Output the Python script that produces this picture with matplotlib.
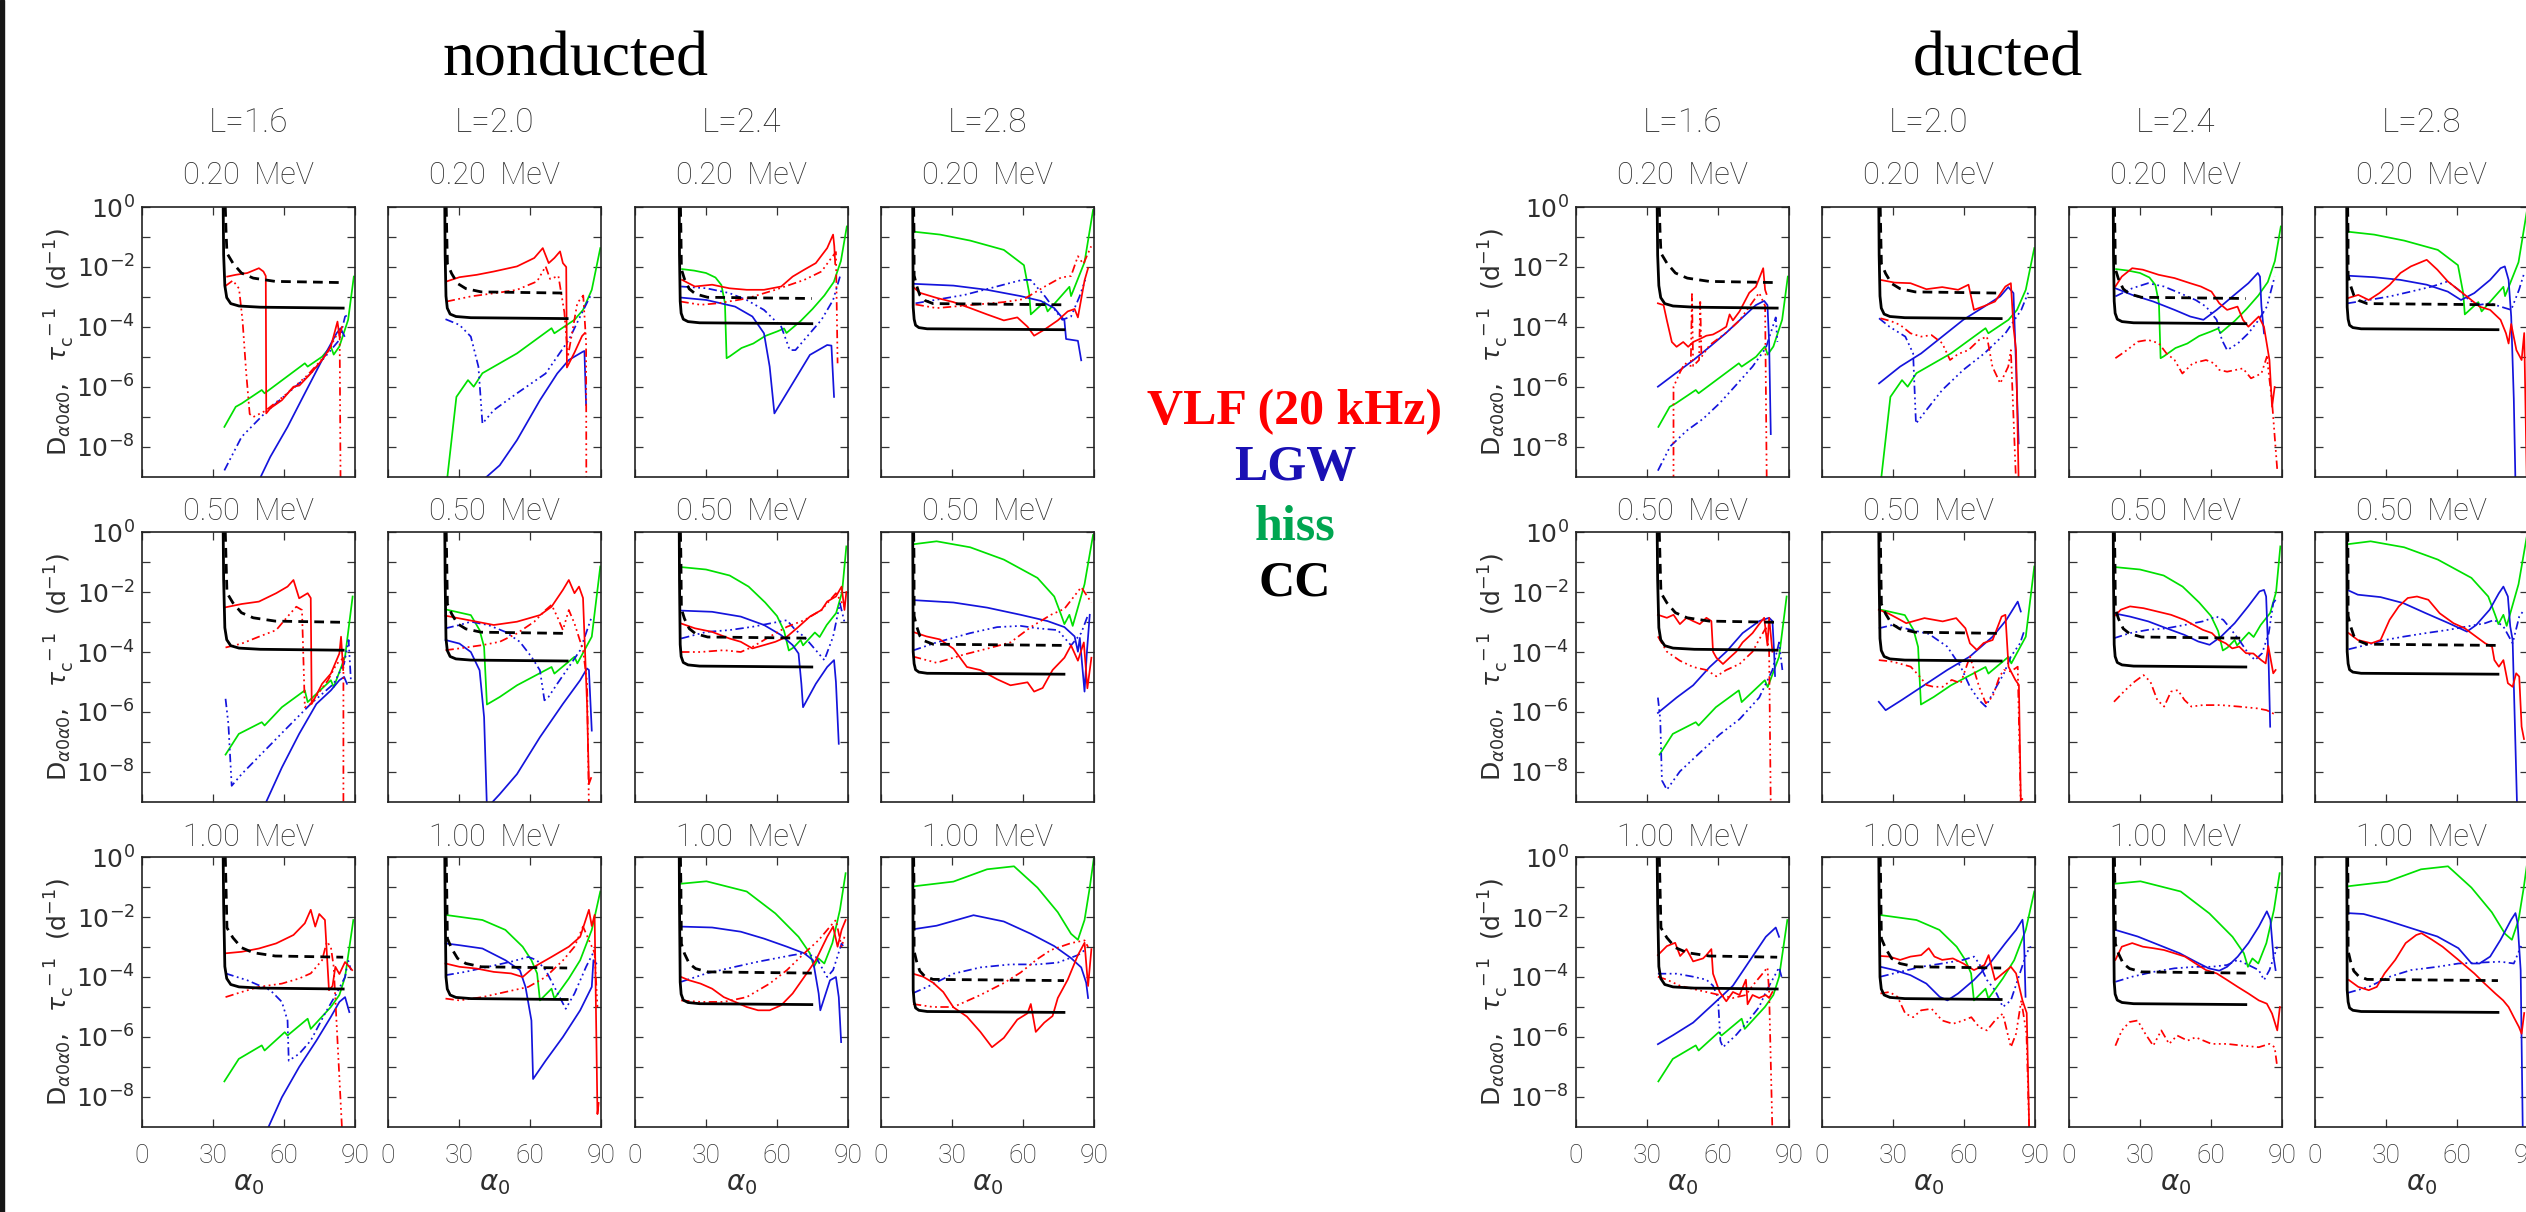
import numpy as np
import matplotlib
matplotlib.use('Agg')
import matplotlib.pyplot as plt
from matplotlib.patches import Rectangle

plt.rcParams['lines.scale_dashes'] = False
plt.rcParams['mathtext.fontset'] = 'dejavusans'

# ---------------- data ----------------
L_VALUES = ['1.6', '2.0', '2.4', '2.8']
ENERGIES = ['0.20', '0.50', '1.00']
SECTIONS = ['nonducted', 'ducted']
LEGEND = [('VLF (20 kHz)', '#ff0000'), ('LGW', '#1a10b4'), ('hiss', '#00a651'), ('CC', '#000000')]
X_TICKS = [0, 30, 60, 90]
Y_EXP_LABELED = [0, -2, -4, -6, -8]
Y_EXP_MINOR = [-1, -3, -5, -7]

# all curves: alpha0 (deg) and log10 of rate (1/day)
# Coulomb collision curves (same in both sections), alpha per L column, values [row][col]
CC_SOLID_A = [[34.3, 34.5, 35.0, 35.8, 37.5, 41.0, 50.0, 85.0],
              [24.0, 24.15, 24.5, 25.05, 26.25, 28.7, 35.0, 75.7],
              [18.7, 18.8, 19.1, 19.5, 20.4, 22.4, 27.3, 74.7],
              [13.4, 13.5, 13.6, 14.0, 14.6, 16.0, 19.5, 77.3]]
CC_SOLID = [
    [[0, -1.6, -2.62, -3.02, -3.22, -3.30, -3.34, -3.37],
     [0, -1.6, -2.97, -3.37, -3.57, -3.65, -3.69, -3.72],
     [0, -1.6, -3.14, -3.54, -3.74, -3.82, -3.86, -3.89],
     [0, -1.6, -3.34, -3.74, -3.94, -4.02, -4.06, -4.09]],
    [[0, -1.6, -3.19, -3.59, -3.79, -3.87, -3.91, -3.94],
     [0, -1.6, -3.55, -3.95, -4.15, -4.23, -4.27, -4.30],
     [0, -1.6, -3.75, -4.15, -4.35, -4.43, -4.47, -4.50],
     [0, -1.6, -3.99, -4.39, -4.59, -4.67, -4.71, -4.74]],
    [[0, -1.6, -3.65, -4.05, -4.25, -4.33, -4.37, -4.40],
     [0, -1.6, -4.00, -4.40, -4.60, -4.68, -4.72, -4.75],
     [0, -1.6, -4.17, -4.57, -4.77, -4.85, -4.89, -4.92],
     [0, -1.6, -4.43, -4.83, -5.03, -5.11, -5.15, -5.18]]]
CC_DASH_A = [[35.2, 35.5, 35.9, 38.4, 42.0, 47.0, 56.3, 85.0],
             [24.6, 24.8, 25.1, 26.9, 29.4, 32.9, 39.4, 75.7],
             [19.2, 19.4, 19.6, 20.9, 22.9, 25.6, 30.7, 74.7],
             [13.8, 13.95, 14.0, 15.0, 16.4, 18.4, 22.0, 77.3]]
CC_DASH = [
    [[0, -0.8, -1.54, -1.87, -2.20, -2.37, -2.48, -2.52],
     [0, -0.8, -1.89, -2.22, -2.55, -2.72, -2.83, -2.87],
     [0, -0.8, -2.07, -2.40, -2.73, -2.90, -3.01, -3.05],
     [0, -0.8, -2.28, -2.61, -2.94, -3.11, -3.22, -3.26]],
    [[0, -0.9, -2.03, -2.36, -2.69, -2.86, -2.97, -3.01],
     [0, -0.9, -2.40, -2.73, -3.06, -3.23, -3.34, -3.38],
     [0, -0.9, -2.56, -2.89, -3.22, -3.39, -3.50, -3.54],
     [0, -0.9, -2.80, -3.13, -3.46, -3.63, -3.74, -3.78]],
    [[0, -1.0, -2.36, -2.69, -3.02, -3.19, -3.30, -3.34],
     [0, -1.0, -2.72, -3.05, -3.38, -3.55, -3.66, -3.70],
     [0, -1.0, -2.89, -3.22, -3.55, -3.72, -3.83, -3.87],
     [0, -1.0, -3.14, -3.47, -3.80, -3.97, -4.08, -4.12]]]

# plasmaspheric hiss (same in both sections), [row][col] lists of (alpha, log10 D)
HISS = [
    [[(34.8, -7.33), (39.6, -6.66), (42.1, -6.55), (50.6, -6.10), (51.8, -6.21), (68.8, -5.21), (70.0, -5.32),
      (76.1, -4.99), (79.8, -4.65), (81.0, -4.92), (83.4, -4.65), (87.1, -3.76), (89.5, -2.32)],
     [(24.8, -9.2), (28.9, -6.33), (33.8, -5.77), (36.2, -5.99), (39.9, -5.54), (47.2, -5.21), (54.5, -4.88),
      (69.1, -4.04), (70.3, -4.21), (78.8, -3.76), (82.4, -3.43), (86.1, -2.76), (89.7, -1.37)],
     [(19.9, -2.07), (25.0, -2.12), (30.0, -2.20), (34.0, -2.35), (36.5, -2.60), (38.0, -3.20), (38.7, -5.04),
      (40.0, -4.98), (45.0, -4.70), (50.0, -4.55), (55.0, -4.30), (60.0, -4.15), (63.0, -4.05), (64.0, -4.20),
      (70.0, -3.80), (75.0, -3.40), (80.0, -2.95), (84.0, -2.50), (87.0, -1.80), (89.5, -0.65)],
     [(13.5, -0.82), (25.0, -0.92), (37.7, -1.12), (51.9, -1.43), (60.4, -1.94), (62.6, -2.86), (63.3, -3.58),
      (69.0, -3.17), (70.4, -3.48), (79.6, -2.66), (80.3, -2.97), (86.0, -1.84), (89.6, -0.10)]],
    [[(35.3, -7.42), (40.9, -6.73), (50.6, -6.34), (51.8, -6.45), (59.1, -5.84), (68.8, -5.28), (70.0, -5.67),
      (79.8, -4.94), (81.0, -5.17), (85.8, -4.16), (89.0, -2.15)],
     [(24.3, -2.58), (35.0, -2.77), (38.7, -3.27), (40.6, -3.83), (41.8, -5.75), (47.2, -5.50), (54.5, -5.11),
      (69.1, -4.50), (70.3, -4.72), (78.8, -4.16), (80.0, -4.38), (86.1, -3.49), (89.7, -1.15)],
     [(19.5, -1.17), (30.0, -1.25), (40.0, -1.45), (48.0, -1.82), (55.0, -2.35), (60.0, -2.80), (63.0, -3.30),
      (65.0, -3.95), (67.0, -3.85), (70.0, -3.60), (71.0, -3.78), (76.0, -3.35), (78.0, -3.50), (81.0, -3.10),
      (85.0, -2.70), (87.5, -2.00), (89.3, -0.48)],
     [(13.5, -0.41), (23.5, -0.31), (37.7, -0.51), (51.9, -0.92), (66.1, -1.53), (73.2, -2.15), (76.1, -2.76),
      (77.5, -3.07), (79.6, -2.76), (81.0, -3.13), (86.0, -1.74), (89.6, -0.10)]],
    [[(34.8, -7.48), (40.9, -6.73), (50.6, -6.28), (51.8, -6.45), (60.3, -5.84), (61.5, -5.95), (70.0, -5.39),
      (71.3, -5.73), (79.8, -5.00), (83.4, -4.60), (85.8, -4.00), (89.3, -2.10)],
     [(24.3, -1.93), (39.9, -2.10), (49.6, -2.43), (56.9, -2.99), (60.6, -3.44), (63.0, -3.88), (64.2, -4.78),
      (69.1, -4.39), (70.3, -4.72), (76.4, -4.05), (81.2, -3.44), (86.1, -2.43), (89.7, -1.15)],
     [(19.5, -0.89), (30.2, -0.81), (47.2, -1.15), (59.3, -1.88), (69.1, -2.66), (73.9, -3.21), (75.6, -3.66),
      (77.5, -3.38), (80.0, -3.55), (83.4, -2.87), (86.6, -1.76), (89.0, -0.54)],
     [(13.5, -0.98), (30.6, -0.82), (44.8, -0.41), (56.2, -0.31), (57.6, -0.41), (66.1, -1.02), (74.7, -1.84),
      (80.3, -2.56), (83.2, -2.76), (86.0, -2.10), (88.2, -1.02), (90.0, 0.0)]]]

# nonducted VLF transmitter (solid, dash-dot) and lightning whistlers (solid, dash-dot)
ND_VLF = [
    [[(36.0, -2.32), (39.6, -2.26), (44.5, -2.20), (49.4, -2.04), (51.3, -2.15), (52.3, -2.3), (52.5, -6.88),
      (54.2, -6.71), (59.1, -6.44), (64.0, -5.99), (66.5, -5.95), (71.3, -5.55), (76.1, -5.10), (79.8, -4.65),
      (82.6, -3.82), (83.4, -4.3), (84.5, -4.0)],
     [(24.8, -2.48), (30.2, -2.34), (37.5, -2.26), (44.7, -2.15), (54.5, -1.98), (61.8, -1.70), (65.4, -1.37),
      (67.9, -1.87), (70.3, -1.70), (72.7, -1.48), (73.9, -1.87), (75.3, -2.0), (75.6, -5.35), (78.8, -4.85),
      (82.0, -4.30), (83.2, -4.2)],
     [(19.9, -2.43), (25.3, -2.65), (32.6, -2.59), (39.9, -2.71), (47.2, -2.76), (54.5, -2.76), (61.8, -2.65),
      (66.6, -2.32), (71.5, -2.09), (76.4, -1.87), (81.2, -1.37), (83.7, -0.92), (84.2, -1.3), (84.6, -1.9)],
     [(13.5, -2.66), (16.4, -2.86), (23.5, -3.03), (30.6, -3.17), (37.7, -3.37), (44.8, -3.58), (51.9, -3.78),
      (57.6, -3.68), (61.9, -3.99), (64.7, -4.29), (69.0, -4.09), (74.7, -3.78), (78.9, -3.48), (81.8, -3.40),
      (83.2, -3.68), (86.0, -2.45), (87.5, -2.04)]],
    [[(35.3, -2.51), (42.1, -2.40), (49.4, -2.32), (56.7, -2.04), (61.5, -1.82), (64.0, -1.60), (66.4, -2.21),
      (70.0, -2.04), (71.3, -2.2), (71.7, -5.73), (72.6, -5.6), (76.1, -5.06), (79.8, -4.72), (83.4, -4.05),
      (84.1, -3.49), (85.0, -4.6)],
     [(24.3, -2.79), (30.2, -2.88), (37.5, -2.99), (44.7, -3.10), (54.5, -2.99), (64.2, -2.77), (69.1, -2.49),
      (73.9, -1.93), (76.4, -1.60), (78.8, -2.04), (80.7, -1.82), (82.4, -2.2), (84.1, -5.73), (84.9, -8.4),
      (85.8, -8.2)],
     [(19.5, -3.05), (25.3, -3.21), (32.6, -3.33), (39.9, -3.55), (44.7, -3.66), (49.6, -3.88), (54.5, -3.77),
      (59.3, -3.66), (64.2, -3.49), (69.1, -3.16), (73.9, -2.82), (78.8, -2.60), (81.2, -2.32), (84.9, -2.15),
      (87.3, -1.82), (88.5, -2.6), (89.3, -2.0)],
     [(13.5, -3.33), (19.2, -3.48), (24.9, -3.58), (30.6, -3.89), (36.3, -4.50), (41.9, -4.60), (49.1, -4.91),
      (54.7, -5.11), (61.9, -5.01), (64.7, -5.32), (68.3, -5.2), (72.5, -4.60), (77.5, -4.19), (80.3, -3.78),
      (83.2, -4.29), (85.7, -3.68), (87.2, -5.21), (88.9, -4.19)]],
    [[(35.3, -3.21), (42.1, -3.16), (49.4, -3.05), (56.7, -2.88), (64.0, -2.60), (68.8, -2.21), (71.3, -1.76),
      (73.2, -2.32), (74.9, -1.9), (77.3, -2.1), (79.0, -4.44), (80.5, -4.3), (81.7, -3.66), (83.4, -3.9),
      (85.8, -3.5), (88.8, -3.77)],
     [(24.3, -3.55), (30.2, -3.66), (37.5, -3.72), (44.7, -3.83), (52.0, -3.88), (56.9, -4.00), (61.8, -3.66),
      (69.1, -3.33), (76.4, -2.99), (81.2, -2.66), (84.9, -1.76), (86.1, -2.3), (87.3, -1.93), (88.5, -8.57),
      (89.0, -8.2)],
     [(19.5, -4.00), (22.9, -4.11), (27.7, -4.22), (32.6, -4.39), (37.5, -4.67), (42.3, -4.83), (47.2, -5.00),
      (52.0, -5.11), (56.9, -5.11), (61.8, -4.94), (66.6, -4.55), (71.5, -4.00), (76.4, -3.44), (81.2, -2.66),
      (83.7, -2.32), (85.6, -2.99), (87.3, -2.43), (89.0, -2.10)],
     [(13.5, -3.89), (17.8, -3.99), (22.0, -4.19), (26.3, -4.50), (30.6, -5.01), (36.3, -5.32), (42.0, -5.83),
      (46.9, -6.34), (51.9, -6.03), (57.6, -5.42), (61.9, -5.21), (63.3, -4.9), (65.4, -5.83), (69.0, -5.52),
      (72.5, -5.3), (74.7, -4.70), (78.9, -4.09), (83.2, -3.27), (86.0, -2.86), (87.5, -4.3), (88.9, -3.07)]]]

ND_VLF_DD = [
    [[(35.3, -2.63), (38.4, -2.45), (41.0, -2.72), (42.5, -3.8), (44.0, -5.5), (45.5, -6.9), (47.0, -7.0),
      (52.0, -6.8), (60.0, -6.3), (70.0, -5.6), (78.0, -4.9), (82.0, -4.3), (83.5, -4.1), (83.9, -9.2)],
     [(24.8, -3.15), (35.0, -2.98), (47.2, -2.85), (54.5, -2.76), (63.0, -2.48), (66.6, -1.98), (68.5, -2.4),
      (72.0, -2.3), (74.5, -3.5), (76.0, -5.0), (80.0, -3.2), (82.5, -2.95), (83.7, -4.5), (83.8, -9.2)],
     [(19.2, -3.15), (27.7, -3.26), (35.0, -3.21), (47.2, -3.05), (59.3, -2.76), (71.5, -2.43), (78.8, -2.15),
      (82.4, -1.76), (84.9, -1.5), (85.6, -5.21)],
     [(14.6, -3.25), (23.5, -3.37), (37.7, -3.27), (51.9, -3.17), (60.4, -3.07), (69.0, -2.66), (76.1, -2.35),
      (80.3, -2.3), (83.2, -1.64), (85.5, -1.9), (88.8, -1.31)]],
    [[(35.3, -3.85), (42.1, -3.72), (49.4, -3.49), (56.7, -3.27), (61.5, -2.82), (65.2, -2.49), (67.6, -2.6),
      (68.8, -5.84), (71.3, -5.73), (78.6, -4.94), (82.2, -4.4), (85.1, -4.2), (85.1, -9.2)],
     [(24.3, -3.94), (30.2, -3.88), (39.9, -3.77), (47.2, -3.66), (54.5, -3.38), (61.8, -2.99), (66.6, -2.60),
      (69.1, -2.43), (71.5, -2.82), (73.9, -3.27), (76.4, -2.60), (78.8, -3.05), (82.4, -3.94), (84.1, -5.0),
      (84.9, -9.2)],
     [(19.5, -4.00), (27.7, -4.00), (37.5, -3.94), (44.7, -4.0), (49.6, -3.83), (56.9, -3.49), (64.2, -3.16),
      (71.5, -2.94), (78.8, -2.60), (84.9, -2.04), (88.5, -2.49)],
     [(13.5, -4.15), (23.5, -4.36), (34.8, -4.09), (44.8, -3.89), (54.7, -3.68), (63.3, -3.17), (71.8, -2.76),
      (77.5, -2.56), (84.6, -1.84), (88.9, -2.35)]],
    [[(35.3, -4.67), (42.1, -4.50), (49.4, -4.33), (59.1, -4.22), (66.4, -4.05), (71.3, -3.88), (76.1, -3.44),
      (78.1, -2.82), (79.8, -3.0), (81.0, -3.66), (84.6, -9.2)],
     [(24.3, -4.72), (30.2, -4.78), (39.9, -4.67), (49.6, -4.50), (59.3, -4.33), (66.6, -4.00), (74.0, -3.44),
      (78.8, -2.99), (82.4, -2.32), (84.9, -2.77), (87.3, -3.2), (88.5, -5.0)],
     [(19.5, -4.78), (27.7, -4.83), (37.5, -4.83), (47.2, -4.67), (56.9, -4.22), (64.2, -3.77), (71.5, -3.21),
      (77.6, -2.77), (82.4, -2.32), (84.9, -2.1), (87.3, -3.0), (88.5, -2.66)],
     [(13.5, -4.9), (22.0, -5.0), (30.6, -5.0), (42.0, -4.6), (51.9, -4.2), (59.0, -3.85), (66.1, -3.4),
      (71.8, -3.1), (80.3, -2.87), (86.0, -2.78), (87.5, -3.0)]]]

ND_LGW = [
    [[(48.9, -9.2), (54.2, -8.33), (61.5, -7.33), (68.8, -6.21), (76.1, -5.10), (82.2, -4.21), (83.9, -4.04),
      (85.5, -4.3)],
     [(38.7, -9.2), (47.2, -8.61), (54.5, -7.77), (64.2, -6.44), (71.5, -5.55), (76.4, -5.10), (82.4, -4.82),
      (83.0, -4.8), (83.7, -6.6)],
     [(19.5, -3.02), (30.2, -3.10), (42.3, -3.32), (49.6, -3.65), (54.5, -4.21), (56.9, -5.32), (58.9, -6.88),
      (66.6, -5.88), (73.9, -4.93), (81.2, -4.60), (83.0, -4.62), (84.1, -6.33)],
     [(13.5, -2.56), (30.6, -2.62), (44.8, -2.76), (59.0, -2.97), (67.5, -3.13), (73.2, -3.37), (77.5, -3.78),
      (78.2, -4.40), (83.2, -4.46), (84.6, -5.11)]],
    [[(51.3, -9.2), (59.1, -7.85), (66.4, -6.73), (73.7, -5.73), (79.8, -5.28), (83.4, -4.94), (85.4, -4.83),
      (86.6, -5.06)],
     [(24.3, -3.60), (30.2, -3.72), (35.0, -4.00), (38.7, -4.61), (40.6, -6.17), (41.8, -9.2), (47.2, -8.74),
      (54.5, -8.07), (64.2, -6.84), (73.9, -5.73), (81.2, -4.94), (84.1, -4.55), (84.9, -4.6), (86.1, -6.62)],
     [(19.5, -2.62), (32.6, -2.66), (44.7, -2.82), (54.5, -3.10), (61.8, -3.44), (66.6, -3.77), (69.1, -4.05),
      (70.3, -5.06), (71.0, -5.84), (76.4, -5.06), (81.2, -4.50), (84.1, -4.27), (84.9, -5.0), (86.1, -7.06)],
     [(13.5, -2.27), (30.6, -2.35), (44.8, -2.52), (59.0, -2.76), (70.4, -2.97), (77.5, -3.17), (81.8, -3.48),
      (83.2, -3.99), (84.0, -3.53), (86.0, -5.32), (87.0, -4.0), (88.2, -2.76)]],
    [[(52.3, -9.2), (59.1, -8.01), (66.4, -7.00), (73.7, -6.12), (79.8, -5.33), (83.4, -4.83), (85.8, -4.67),
      (87.6, -5.17)],
     [(24.3, -2.88), (30.2, -2.94), (39.9, -3.05), (49.6, -3.44), (55.7, -3.77), (58.1, -4.33), (60.6, -5.45),
      (61.3, -7.40), (66.6, -6.79), (73.9, -6.00), (81.2, -5.11), (86.1, -4.33), (86.8, -3.44), (88.0, -3.55)],
     [(19.5, -2.32), (32.6, -2.35), (44.7, -2.49), (54.5, -2.72), (64.2, -2.99), (71.5, -3.21), (75.2, -3.44),
      (77.6, -4.55), (78.3, -5.11), (82.4, -4.11), (84.9, -4.00), (86.1, -4.67), (87.1, -6.17)],
     [(13.5, -2.41), (23.5, -2.29), (39.1, -1.94), (51.9, -2.15), (63.3, -2.56), (73.2, -2.97), (80.3, -3.37),
      (84.6, -3.68), (86.7, -4.19), (87.5, -4.70)]]]

ND_LGW_DD = [
    [[(34.8, -8.78), (42.1, -7.66), (51.8, -6.88), (61.5, -6.21), (71.3, -5.55), (78.6, -4.88), (83.4, -4.43),
      (85.8, -3.65), (87.0, -3.6)],
     [(24.3, -3.74), (30.2, -3.93), (35.0, -4.32), (38.2, -5.32), (39.9, -7.22), (44.7, -6.77), (54.5, -6.21),
      (66.6, -5.55), (76.4, -4.43), (81.2, -3.65), (86.1, -2.87)],
     [(19.5, -2.65), (30.2, -2.71), (39.9, -2.87), (47.2, -3.10), (54.5, -3.43), (61.8, -3.99), (65.4, -4.77),
      (67.8, -4.77), (71.5, -4.43), (78.8, -3.76), (83.7, -3.10), (86.6, -2.32)],
     [(14.6, -3.21), (35.3, -2.93), (59.6, -2.43), (63.2, -2.43), (69.3, -2.98), (76.6, -3.76), (80.3, -3.65),
      (83.9, -2.98), (86.3, -2.43)]],
    [[(35.3, -5.56), (36.5, -6.40), (37.9, -8.46), (42.1, -8.07), (51.8, -7.29), (61.5, -6.51), (71.3, -5.73),
      (81.0, -5.06), (85.4, -4.39), (87.3, -3.60), (88.3, -5.0)],
     [(24.3, -3.21), (30.2, -3.10), (35.0, -2.99), (42.3, -3.10), (49.6, -3.33), (55.7, -3.66), (60.6, -4.16),
      (64.2, -4.61), (66.1, -5.61), (67.8, -5.5), (71.5, -5.06), (76.4, -4.50), (81.2, -3.94), (86.1, -2.82)],
     [(19.5, -3.55), (30.2, -3.33), (39.9, -3.27), (49.6, -3.16), (56.9, -3.05), (64.2, -2.94), (67.8, -3.27),
      (71.5, -3.49), (76.4, -3.94), (80.0, -4.27), (83.7, -3.49), (86.6, -2.38), (88.5, -3.0)],
     [(13.5, -3.95), (23.5, -3.68), (37.7, -3.37), (49.1, -3.17), (59.0, -3.13), (66.1, -3.21), (74.7, -3.27),
      (80.3, -3.78), (84.6, -3.37), (87.5, -2.76)]],
    [[(35.3, -3.88), (44.5, -4.11), (54.2, -4.44), (59.1, -4.83), (61.5, -5.45), (62.0, -6.79), (66.4, -6.56),
      (71.3, -6.12), (77.3, -5.22), (82.2, -4.55), (85.8, -4.00), (87.1, -3.44), (88.3, -3.77)],
     [(24.3, -3.94), (32.6, -3.83), (42.3, -3.66), (52.0, -3.49), (59.3, -3.33), (62.9, -3.44), (66.6, -3.77),
      (70.3, -4.33), (75.1, -5.06), (78.8, -4.55), (83.7, -3.66), (87.3, -3.10)],
     [(19.5, -4.16), (30.2, -3.88), (42.3, -3.66), (52.0, -3.49), (59.3, -3.38), (66.6, -3.27), (71.5, -3.21),
      (76.4, -3.33), (81.2, -4.00), (83.7, -3.77), (87.3, -2.88), (88.5, -3.05)],
     [(13.5, -4.54), (20.6, -4.29), (30.6, -3.89), (42.0, -3.68), (54.7, -3.58), (66.1, -3.58), (74.7, -3.52),
      (83.2, -3.27), (86.7, -3.07)]]]

# ducted
DU_VLF = [
    [[(34.6, -3.21), (37.0, -3.27), (38.4, -3.78), (40.5, -4.50), (42.5, -4.66), (45.3, -4.50), (47.4, -4.66),
      (49.5, -4.5), (52.3, -4.40), (55.1, -4.29), (57.9, -4.25), (60.7, -4.13), (63.5, -3.99), (64.9, -3.58),
      (66.3, -3.78), (69.1, -3.48), (73.2, -2.86), (76.0, -2.66), (79.1, -2.04), (79.9, -2.76), (80.5, -2.9)],
     [(24.7, -2.43), (30.7, -2.52), (37.4, -2.54), (44.1, -2.74), (50.8, -2.67), (57.5, -2.76), (61.9, -2.59),
      (64.2, -3.43), (68.6, -3.3), (73.1, -3.15), (77.5, -2.65), (79.8, -2.54), (80.9, -4.0), (82.0, -4.77),
      (83.1, -9.2)],
     [(19.6, -2.65), (22.3, -2.32), (26.7, -2.04), (31.2, -2.09), (37.9, -2.26), (44.6, -2.37), (51.2, -2.54),
      (55.7, -2.65), (60.2, -2.82), (63.5, -3.21), (66.8, -3.43), (71.2, -3.32), (73.5, -3.76), (75.8, -3.99),
      (80.2, -3.65), (82.4, -4.0), (84.7, -5.10), (85.8, -6.66), (86.9, -6.0)],
     [(13.8, -3.04), (18.3, -2.93), (22.7, -3.10), (27.2, -2.87), (31.6, -2.59), (36.1, -2.20), (40.5, -1.98),
      (47.2, -1.76), (51.7, -2.09), (56.1, -2.48), (60.6, -2.76), (65.1, -3.04), (69.5, -3.32), (74.0, -3.43),
      (78.4, -3.76), (80.7, -4.21), (81.8, -4.55), (82.9, -3.9), (85.1, -4.77), (87.3, -5.1), (88.4, -4.2),
      (89.5, -9.2)]],
    [[(34.6, -2.76), (38.4, -2.86), (41.2, -2.76), (43.9, -3.07), (46.7, -2.86), (49.5, -2.97), (52.3, -3.07),
      (55.1, -2.86), (57.2, -2.97), (57.9, -3.99), (59.3, -4.19), (62.1, -4.40), (64.9, -4.19), (67.7, -3.99),
      (70.4, -3.68), (74.6, -3.37), (77.4, -3.07), (79.5, -2.86), (80.9, -3.78), (81.6, -2.86), (83.0, -3.99)],
     [(24.0, -2.59), (27.9, -2.71), (31.7, -2.87), (35.6, -3.04), (43.3, -2.87), (51.0, -2.98), (56.7, -2.87),
      (60.6, -3.21), (62.5, -3.71), (65.4, -3.93), (68.3, -3.7), (72.1, -3.60), (75.9, -2.82), (77.5, -2.76),
      (78.8, -4.49), (81.7, -4.93), (83.2, -5.1), (84.0, -8.94), (84.6, -8.9)],
     [(19.0, -2.82), (21.9, -2.59), (25.8, -2.48), (31.5, -2.54), (37.3, -2.65), (43.1, -2.76), (48.8, -2.93),
      (52.7, -3.10), (56.5, -3.26), (60.4, -3.37), (63.3, -3.6), (66.2, -3.71), (69.0, -3.88), (71.9, -3.82),
      (74.8, -4.04), (77.9, -4.05), (81.2, -4.27), (83.1, -4.38), (84.2, -3.8), (86.3, -4.71), (87.3, -4.6)],
     [(14.2, -3.37), (18.1, -3.60), (23.8, -3.71), (27.7, -3.6), (31.5, -2.93), (35.4, -2.48), (39.2, -2.20),
      (43.1, -2.15), (47.9, -2.26), (52.7, -2.71), (58.5, -3.04), (63.3, -3.21), (68.1, -3.49), (71.9, -3.71),
      (74.8, -3.82), (75.8, -4.27), (77.7, -4.49), (79.6, -4.27), (81.5, -5.04), (83.5, -5.16), (85.0, -4.71),
      (86.3, -4.82), (87.3, -6.49), (88.3, -6.9)]],
    [[(34.6, -3.27), (38.4, -2.97), (41.9, -2.86), (44.0, -3.3), (46.7, -3.07), (49.5, -3.48), (53.7, -3.38),
      (55.1, -3.27), (57.2, -3.07), (57.9, -3.89), (60.7, -4.50), (63.5, -4.81), (66.3, -4.5), (69.1, -4.60),
      (71.8, -4.09), (72.5, -4.91), (74.6, -4.6), (77.4, -4.70), (80.2, -4.6), (81.6, -4.70), (83.0, -4.5)],
     [(24.7, -3.30), (28.5, -3.32), (33.0, -3.43), (37.4, -3.32), (41.9, -3.27), (45.1, -3.04), (47.5, -3.32),
      (50.8, -3.43), (55.3, -3.38), (59.7, -3.55), (64.2, -3.77), (68.6, -3.60), (70.4, -3.27), (73.1, -4.10),
      (76.4, -3.88), (79.8, -3.66), (82.0, -3.88), (84.7, -4.78), (86.5, -5.2), (87.6, -9.2)],
     [(19.6, -3.43), (22.3, -2.99), (26.7, -2.87), (31.2, -2.99), (35.6, -3.04), (40.1, -3.10), (44.6, -3.21),
      (49.0, -3.32), (53.5, -3.55), (57.9, -3.77), (62.4, -3.88), (66.8, -4.10), (71.3, -4.33), (75.8, -4.55),
      (80.2, -4.78), (83.6, -4.89), (85.8, -5.22), (88.0, -5.78), (89.1, -5.0)],
     [(14.3, -4.10), (18.3, -4.33), (22.7, -4.44), (26.1, -4.33), (29.4, -3.88), (33.9, -3.43), (38.3, -2.87),
      (42.8, -2.60), (45.0, -2.54), (49.5, -2.76), (53.9, -2.99), (60.6, -3.43), (67.3, -3.88), (71.7, -4.22),
      (76.2, -4.55), (79.5, -4.78), (81.8, -5.0), (84.0, -5.34), (86.2, -5.67), (87.3, -5.89), (88.4, -5.2)]]]

DU_VLF_DD = [
    [[(41.2, -9.2), (41.2, -6.0), (44.0, -5.5), (46.0, -5.21), (48.5, -5.3), (49.0, -2.9), (49.5, -5.3),
      (52.0, -5.1), (52.5, -3.1), (53.0, -5.0), (56.5, -4.6), (63.5, -4.19), (69.1, -3.78), (74.6, -3.17),
      (77.4, -2.86), (79.9, -3.3), (80.6, -9.2)],
     [(24.7, -3.71), (29.0, -3.8), (33.0, -3.93), (37.4, -4.21), (41.9, -4.32), (46.3, -4.27), (50.8, -4.54),
      (54.1, -5.10), (57.5, -4.9), (61.9, -4.77), (66.4, -4.43), (69.7, -4.32), (72.0, -5.32), (75.3, -5.88),
      (78.7, -5.32), (79.8, -4.77), (82.0, -9.2)],
     [(19.6, -5.04), (24.5, -4.77), (29.0, -4.49), (33.4, -4.43), (37.9, -4.54), (41.2, -4.88), (44.6, -5.10),
      (47.9, -5.55), (52.3, -5.21), (57.9, -5.10), (61.3, -5.21), (63.5, -5.43), (66.8, -5.49), (73.5, -5.38),
      (76.9, -5.71), (81.3, -5.55), (83.6, -4.99), (85.8, -6.5), (88.0, -8.77)],
     []],
    [[(34.6, -3.48), (38.4, -3.99), (43.9, -4.29), (49.5, -4.50), (55.1, -4.60), (59.3, -4.81), (63.5, -4.6),
      (69.1, -4.40), (71.8, -4.2), (74.6, -3.99), (77.4, -3.58), (80.2, -3.2), (81.6, -3.99), (82.3, -9.2)],
     [(24.0, -4.27), (29.8, -4.32), (37.5, -4.49), (41.3, -4.82), (44.2, -5.10), (47.1, -5.16), (51.0, -5.16),
      (54.8, -4.93), (58.6, -5.04), (62.5, -4.15), (66.4, -5.16), (69.2, -5.71), (72.1, -5.49), (75.0, -4.82),
      (76.9, -4.60), (79.8, -4.65), (82.7, -4.49), (84.0, -9.2)],
     [(19.0, -5.66), (23.8, -5.27), (27.7, -4.99), (31.5, -4.77), (34.4, -4.99), (37.3, -5.60), (40.2, -5.82),
      (43.1, -5.32), (46.0, -5.27), (48.8, -5.60), (51.7, -5.82), (56.5, -5.77), (64.2, -5.77), (71.9, -5.82),
      (79.6, -5.88), (83.5, -5.94), (86.3, -6.05), (87.6, -6.0)],
     []],
    [[(34.6, -3.99), (38.4, -4.09), (43.9, -4.29), (49.5, -4.40), (55.1, -4.50), (60.7, -4.60), (66.3, -4.70),
      (71.8, -4.6), (74.6, -4.29), (78.8, -3.89), (80.9, -3.68), (81.6, -4.5), (83.0, -9.2)],
     [(24.7, -4.55), (28.5, -4.5), (31.9, -4.66), (35.2, -5.22), (38.5, -5.34), (41.9, -5.11), (46.3, -5.06),
      (50.8, -5.45), (55.3, -5.56), (59.7, -5.45), (63.1, -5.34), (66.4, -5.67), (69.7, -5.78), (73.1, -5.45),
      (76.4, -5.22), (79.8, -6.34), (82.0, -5.89), (84.2, -4.78), (86.4, -5.89), (87.6, -9.2)],
     [(19.6, -6.29), (22.3, -5.78), (25.6, -5.50), (29.0, -5.45), (32.3, -5.9), (35.6, -6.29), (39.0, -5.78),
      (42.3, -6.23), (45.7, -5.95), (50.1, -6.12), (53.5, -6.01), (60.2, -6.23), (66.8, -6.23), (73.5, -6.29),
      (80.2, -6.34), (84.7, -6.23), (86.9, -6.34), (88.0, -7.01)],
     []]]

DU_LGW = [
    [[(34.6, -5.99), (42.5, -5.52), (49.5, -5.11), (56.5, -4.66), (63.5, -4.19), (70.4, -3.68), (76.0, -3.27),
      (79.5, -3.13), (80.9, -3.27), (81.6, -4.5), (82.3, -7.57)],
     [(24.1, -5.88), (33.0, -5.32), (41.9, -4.88), (50.8, -4.32), (59.7, -3.76), (68.6, -3.32), (75.3, -2.98),
      (78.7, -2.67), (80.9, -2.87), (82.0, -5.32), (83.1, -7.88)],
     [(19.6, -2.71), (26.7, -2.93), (35.6, -3.15), (44.6, -3.43), (51.2, -3.65), (56.8, -3.76), (62.4, -3.43),
      (69.1, -2.98), (75.8, -2.54), (79.8, -2.20), (80.7, -2.32), (81.3, -3.3), (82.4, -4.21)],
     [(13.8, -2.29), (25.0, -2.34), (36.1, -2.43), (47.2, -2.59), (56.1, -2.82), (61.7, -3.10), (67.3, -2.87),
      (74.0, -2.43), (78.4, -2.04), (80.2, -1.98), (81.8, -2.43), (82.9, -3.65), (84.0, -6.4), (84.7, -9.2)]],
    [[(34.6, -6.03), (42.5, -5.52), (49.5, -5.11), (56.5, -4.50), (63.5, -3.99), (70.4, -3.37), (77.4, -2.97),
      (81.6, -2.86), (83.0, -2.97), (83.7, -3.99), (84.1, -4.8)],
     [(24.0, -5.66), (26.9, -5.94), (33.7, -5.60), (43.3, -5.10), (52.9, -4.60), (62.5, -4.15), (72.1, -3.49),
      (77.9, -2.93), (82.7, -2.32), (84.0, -2.65)],
     [(19.0, -2.71), (25.8, -2.82), (33.5, -2.98), (41.2, -3.21), (48.8, -3.43), (54.6, -3.65), (59.4, -3.76),
      (64.2, -3.49), (70.0, -3.04), (75.7, -2.48), (80.5, -1.98), (82.4, -1.93), (83.3, -2.15), (84.4, -4.5),
      (85.0, -6.49)],
     [(14.2, -1.95), (18.1, -2.09), (27.7, -2.17), (37.3, -2.37), (46.9, -2.71), (56.5, -3.04), (64.2, -3.32),
      (68.1, -3.10), (73.8, -2.59), (77.7, -2.04), (79.6, -1.82), (81.5, -2.15), (82.5, -3.15), (83.5, -3.6),
      (85.4, -9.2)]],
    [[(34.6, -6.24), (41.2, -5.93), (49.5, -5.52), (57.9, -4.91), (66.3, -4.29), (73.2, -3.48), (80.2, -2.66),
      (84.4, -2.35), (85.8, -2.66)],
     [(24.7, -3.66), (30.7, -3.77), (37.4, -3.94), (44.1, -4.22), (49.7, -4.66), (53.0, -4.78), (57.5, -4.55),
      (64.2, -4.10), (70.9, -3.55), (77.5, -2.87), (82.0, -2.43), (84.7, -2.09), (85.3, -2.54), (86.0, -4.66)],
     [(19.6, -2.43), (29.0, -2.65), (37.9, -2.93), (46.8, -3.21), (53.5, -3.49), (59.0, -3.71), (63.5, -3.79),
      (66.8, -3.66), (71.3, -3.32), (75.8, -2.87), (80.2, -2.32), (83.6, -1.81), (85.1, -2.09), (86.4, -3.32),
      (87.3, -3.77)],
     [(13.8, -1.87), (20.5, -1.90), (29.4, -2.09), (40.5, -2.37), (51.7, -2.65), (60.6, -3.04), (66.2, -3.55),
      (69.5, -3.55), (74.0, -3.32), (78.4, -2.76), (82.9, -2.09), (84.7, -1.87), (85.6, -2.2), (86.9, -3.77),
      (87.8, -9.2)]]]

DU_LGW_DD = [
    [[(34.6, -8.79), (39.8, -7.98), (46.7, -7.46), (53.7, -7.06), (60.7, -6.54), (67.7, -5.93), (74.6, -5.32),
      (80.2, -4.70), (84.4, -3.68), (85.1, -4.5)],
     [(24.1, -3.71), (28.5, -3.99), (35.2, -4.32), (38.5, -4.88), (39.7, -7.22), (44.1, -6.77), (50.8, -6.10),
      (59.7, -5.43), (68.6, -4.88), (77.5, -4.21), (84.2, -3.43), (87.6, -2.76)],
     [(19.6, -2.98), (26.7, -2.71), (33.4, -2.54), (40.1, -2.65), (46.8, -2.87), (53.5, -3.10), (57.9, -3.32),
      (62.4, -3.76), (64.6, -4.43), (66.8, -4.77), (71.3, -4.55), (75.8, -4.21), (80.2, -3.76), (83.6, -3.32),
      (86.9, -2.32)],
     [(13.8, -3.21), (22.7, -3.10), (31.6, -2.98), (40.5, -2.82), (49.5, -2.65), (56.1, -2.48), (60.6, -2.76),
      (65.1, -3.10), (69.5, -3.26), (74.0, -3.21), (78.4, -3.32), (82.9, -3.43), (86.2, -2.76), (88.4, -2.2)]],
    [[(34.6, -5.52), (35.6, -6.24), (36.3, -8.28), (38.4, -8.59), (43.9, -7.98), (52.3, -7.36), (60.7, -6.75),
      (69.1, -6.24), (77.4, -5.52), (83.0, -4.60), (85.8, -3.68), (87.2, -4.6)],
     [(24.0, -3.21), (29.8, -3.1), (37.5, -3.26), (45.2, -3.4), (52.9, -3.82), (58.6, -4.49), (62.5, -5.16),
      (66.3, -5.6), (69.2, -5.82), (72.1, -5.38), (76.9, -4.71), (79.8, -4.15), (83.7, -3.71), (85.6, -3.26)],
     [(19.0, -3.54), (25.8, -3.37), (33.5, -3.26), (41.2, -3.21), (48.8, -3.10), (56.5, -2.98), (62.3, -2.82),
      (65.2, -2.93), (68.1, -3.21), (71.9, -3.60), (75.7, -4.04), (78.6, -4.27), (81.6, -4.04), (84.4, -3.37),
      (86.3, -2.37), (87.3, -2.26)],
     [(14.2, -3.91), (21.9, -3.76), (29.6, -3.60), (37.3, -3.49), (46.9, -3.37), (56.5, -3.26), (64.2, -3.15),
      (71.9, -3.04), (75.8, -2.93), (79.6, -3.15), (83.5, -3.71), (86.3, -2.82), (88.3, -2.6)]],
    [[(34.6, -3.89), (42.5, -3.89), (49.5, -3.99), (55.1, -4.09), (57.9, -4.29), (60.0, -4.70), (61.0, -6.13),
      (62.1, -6.34), (67.7, -5.93), (73.2, -5.42), (77.4, -5.0), (80.2, -4.50), (84.4, -3.89), (85.8, -3.68),
      (87.2, -4.1)],
     [(24.7, -3.99), (33.0, -3.83), (41.9, -3.66), (50.8, -3.55), (59.7, -3.43), (64.2, -3.32), (66.4, -3.55),
      (69.7, -4.10), (73.1, -4.44), (76.4, -5.00), (79.8, -4.78), (83.1, -4.0), (86.4, -3.21), (88.2, -2.98)],
     [(19.6, -4.16), (26.7, -3.99), (35.6, -3.83), (44.6, -3.71), (53.5, -3.66), (60.2, -3.66), (66.8, -3.60),
      (71.3, -3.43), (75.8, -3.60), (80.2, -3.77), (82.4, -4.10), (84.7, -3.77), (88.0, -2.99)],
     [(13.8, -4.53), (22.7, -4.33), (31.6, -3.99), (40.5, -3.77), (51.7, -3.66), (60.6, -3.55), (69.5, -3.52),
      (78.4, -3.49), (84.0, -3.55), (87.3, -2.93)]]]

# ---------------- layout / style ----------------
W, H = 2526, 1212
PANEL_X = [[142, 388, 635, 881], [1576, 1822, 2069, 2315]]
PANEL_TOP = [207, 532, 857]
PANEL_W, PANEL_H = 213, 270
E_LABEL_Y = [176, 512, 837]
TITLE_X = [575, 1998]
GRAY = '#2e2e2e'
RED, BLUE, GREEN = '#ff0000', '#1414dc', '#00e000'
DD = (0, (6, 2.5, 1.3, 2.5, 1.3, 2.5, 1.3, 2.5))
LONGDASH = (0, (7, 4.5))
LABEL_FONT = dict(family=['Roboto', 'DejaVu Sans'], weight='light', color=GRAY)

fig = plt.figure(figsize=(W / 100, H / 100), dpi=100)
fig.add_artist(Rectangle((0, 0), 4 / W, 1, transform=fig.transFigure, color='#161616'))


def fx(px):
    return px / W


def fy(py):
    return 1 - py / H


def draw(ax, pts, color, ls, lw=1.25):
    if not pts:
        return
    a, lg = zip(*pts)
    ax.plot(a, 10.0 ** np.array(lg), color=color, linestyle=ls, lw=lw)


sections = [(ND_VLF, ND_VLF_DD, ND_LGW, ND_LGW_DD), (DU_VLF, DU_VLF_DD, DU_LGW, DU_LGW_DD)]

for s, (vlf, vlf_dd, lgw, lgw_dd) in enumerate(sections):
    fig.text(fx(TITLE_X[s]), fy(75), SECTIONS[s], family='Liberation Serif', size=46,
             ha='center', va='baseline')
    for c in range(4):
        cx = PANEL_X[s][c] + PANEL_W / 2
        fig.text(fx(cx), fy(123), 'L=' + L_VALUES[c], size=24, ha='center', va='center', **LABEL_FONT)
        fig.text(fx(cx), fy(1183), r'$\alpha_0$', size=20, ha='center', va='center', color=GRAY)
        for r in range(3):
            top = PANEL_TOP[r]
            fig.text(fx(cx), fy(E_LABEL_Y[r]), ENERGIES[r] + '  MeV', size=22, ha='center', va='center',
                     **LABEL_FONT)
            ax = fig.add_axes([fx(PANEL_X[s][c]), fy(top + PANEL_H), PANEL_W / W, PANEL_H / H])
            ax.set_yscale('log')

            # wave curves
            draw(ax, HISS[r][c], GREEN, '-')
            draw(ax, lgw_dd[r][c], BLUE, DD)
            draw(ax, lgw[r][c], BLUE, '-')
            draw(ax, vlf_dd[r][c], RED, DD)
            draw(ax, vlf[r][c], RED, '-')
            # Coulomb collisions
            ax.plot(CC_DASH_A[c], 10.0 ** np.array(CC_DASH[r][c]), color='black', ls=LONGDASH, lw=2.0)
            ax.plot(CC_SOLID_A[c], 10.0 ** np.array(CC_SOLID[r][c]), color='black', ls='-', lw=2.0)

            ax.set_xlim(0, 90)
            ax.set_ylim(1e-9, 1)
            ax.set_xticks(X_TICKS)
            ax.set_yticks([10.0 ** e for e in Y_EXP_LABELED])
            ax.set_yticks([10.0 ** e for e in Y_EXP_MINOR], minor=True)
            ax.tick_params(which='both', direction='in', top=True, right=True, length=6, width=0.9,
                           color='#333333', labelcolor=GRAY)
            ax.tick_params(axis='y', which='minor', labelleft=False)
            ax.tick_params(axis='x', pad=12, labelsize=19)
            ax.tick_params(axis='y', pad=5, labelsize=18)
            if c == 0:
                ax.set_yticklabels([r'$10^{%d}$' % e for e in Y_EXP_LABELED])
            else:
                ax.set_yticklabels([])
            if r == 2:
                ax.set_xticklabels([str(t) for t in X_TICKS], family=['Roboto', 'DejaVu Sans'], weight='light')
            else:
                ax.set_xticklabels([])
            for sp in ax.spines.values():
                sp.set_linewidth(1.2)
                sp.set_color('#222222')
            if c == 0:
                fig.text(fx(PANEL_X[s][0] - 82), fy(top + PANEL_H / 2),
                         r'$\mathrm{D}_{\alpha0\alpha0},\ \ \tau_{\mathrm{c}}^{\ -1}\ \ (\mathrm{d}^{-1})$',
                         rotation=90, size=18, ha='center', va='center', color=GRAY)

# colour key in the middle
for i, (txt, col) in enumerate(LEGEND):
    fig.text(fx(1295), fy([412, 468, 527, 583][i]), txt, color=col, family='Liberation Serif',
             weight='bold', size=36, ha='center', va='center')

fig.savefig('out.png', dpi=100)
